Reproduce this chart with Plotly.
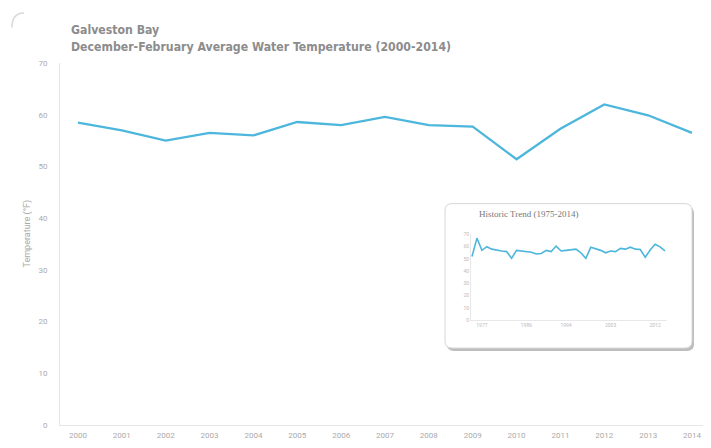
import plotly.graph_objects as go

years = list(range(2000, 2015))
temps = [58.5, 57.0, 55.0, 56.5, 56.0, 58.6, 58.0, 59.6, 58.0, 57.7, 51.4, 57.3, 62.0, 59.9, 56.5]

hist_years = list(range(1975, 2015))
hist_temps = [52.0, 67.0, 57.0, 60.0, 58.0, 57.0, 56.5, 56.0, 50.5, 57.0,
              56.5, 56.5, 55.5, 54.0, 54.5, 57.0, 56.0, 60.5, 56.5, 57.0,
              57.5, 58.0, 55.0, 50.5, 59.5] + temps

y_ticks = [0, 10, 20, 30, 40, 50, 60, 70]
inset_xticks = [1977, 1986, 1994, 2003, 2012]

# page body has an 8px margin on every side; size the figure so nothing overflows
OFF = 8
W, H = 711 - 2 * OFF, 448 - 2 * OFF
px = lambda v: (v - OFF) / W
py = lambda v: (H - (v - OFF)) / H

LINE = "#4db6dc"
fig = go.Figure()
fig.add_trace(go.Scatter(x=years, y=temps, mode="lines",
                         line=dict(color=LINE, width=2.3), showlegend=False,
                         xaxis="x", yaxis="y"))
fig.add_trace(go.Scatter(x=hist_years, y=hist_temps, mode="lines",
                         line=dict(color=LINE, width=1.6), showlegend=False,
                         xaxis="x2", yaxis="y2"))

def rrect(x0, y0, x1, y1, r):
    rx, ry = r / W, r / H
    X0, X1 = px(x0), px(x1)
    Y0, Y1 = py(y1), py(y0)  # bottom, top
    return (f"M {X0+rx},{Y0} L {X1-rx},{Y0} Q {X1},{Y0} {X1},{Y0+ry} "
            f"L {X1},{Y1-ry} Q {X1},{Y1} {X1-rx},{Y1} L {X0+rx},{Y1} "
            f"Q {X0},{Y1} {X0},{Y1-ry} L {X0},{Y0+ry} Q {X0},{Y0} {X0+rx},{Y0} Z")

corner = (f"M {px(12)},{py(24)} Q {px(12)},{py(9)} {px(24)},{py(9)}")

shapes = [
    dict(type="path", xref="paper", yref="paper", path=corner,
         line=dict(color="#d8d8d8", width=1.5)),
    dict(type="path", xref="paper", yref="paper", path=rrect(447, 210, 694, 360, 7),
         fillcolor="#bdbdbd", line=dict(width=0), layer="below"),
    dict(type="path", xref="paper", yref="paper", path=rrect(445, 207, 692, 357, 7),
         fillcolor="white", line=dict(color="#d6d6d6", width=1), layer="below"),
]

TITLE_FONT = "DejaVu Sans Condensed, Liberation Sans Narrow, Arial Narrow"

fig.update_layout(
    width=W, height=H,
    margin=dict(l=0, r=0, t=0, b=0),
    paper_bgcolor="white", plot_bgcolor="rgba(0,0,0,0)",
    shapes=shapes,
    font=dict(family="Roboto, DejaVu Sans", color="#aaaaaa", size=8),
    xaxis=dict(domain=[px(60), 1.0], range=[1999.59, 2014.251],
               tickvals=years, ticktext=[str(y) for y in years],
               ticklabeloverflow="allow",
               showgrid=False, zeroline=False, showline=True, linecolor="#e6e6e6",
               linewidth=1, ticks="", ticklabelstandoff=2,
               tickfont=dict(size=8, color="#aaaaaa")),
    yaxis=dict(domain=[py(437), py(61)], range=[0, 70], tickvals=y_ticks,
               showgrid=False, zeroline=False, showline=True, linecolor="#e6e6e6",
               linewidth=1, ticks="", ticklabelstandoff=10,
               tickfont=dict(size=8, color="#aaaaaa")),
    xaxis2=dict(domain=[px(471), px(667)], range=[1974.8, 2014.4], anchor="y2",
                tickvals=inset_xticks, ticktext=[str(v) for v in inset_xticks],
                showgrid=False, zeroline=False, showline=True, linecolor="#e8e8e8",
                ticks="", tickfont=dict(size=5, color="#bbbbbb")),
    yaxis2=dict(domain=[py(328), py(239)], range=[0, 70], anchor="x2",
                tickvals=y_ticks, showgrid=False, zeroline=False, showline=True,
                linecolor="#e8e8e8", ticks="", tickfont=dict(size=5, color="#bbbbbb")),
    annotations=[
        dict(text="<b>Galveston Bay</b>", xref="paper", yref="paper",
             x=px(69), y=py(27), xanchor="left", yanchor="middle", showarrow=False,
             font=dict(family=TITLE_FONT, size=12.2, color="#8c8c8c")),
        dict(text="<b>December-February Average Water Temperature (2000-2014)</b>",
             xref="paper", yref="paper", x=px(69), y=py(44), xanchor="left",
             yanchor="middle", showarrow=False,
             font=dict(family=TITLE_FONT, size=12.2, color="#8c8c8c")),
        dict(text="Temperature (°F)", xref="paper", yref="paper", textangle=-90,
             x=px(27), y=py(238), xanchor="center", yanchor="middle", showarrow=False,
             font=dict(size=9, color="#aaaaaa")),
        dict(text="Historic Trend (1975-2014)", xref="paper", yref="paper",
             x=px(477), y=py(218), xanchor="left", yanchor="middle", showarrow=False,
             font=dict(family="Liberation Serif, DejaVu Serif", size=9, color="#777777")),
    ],
)

fig.write_html("out.html")
